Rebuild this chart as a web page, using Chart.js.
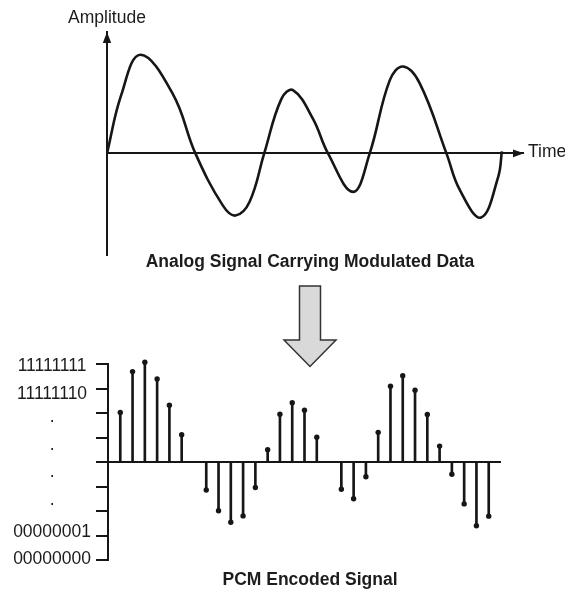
<!DOCTYPE html>
<html lang="en">
<head>
<meta charset="utf-8">
<title>Analog signal and PCM encoded signal</title>
<script src="https://cdn.jsdelivr.net/npm/chart.js@4.4.1/dist/chart.umd.min.js"></script>
<style>
    html, body { margin: 0; padding: 0; background: #fff; }
    body {
        position: relative;
        width: 565px;
        height: 592px;
        overflow: hidden;
        font-family: 'Liberation Sans', Arial, Helvetica, sans-serif;
        color: #1c1c1c;
    }
    .chart-box { position: absolute; left: 0; width: 565px; }
    #analog-box { top: 0; height: 262px; }
    #pcm-box { top: 340px; height: 236px; }
    .txt { position: absolute; font-size: 17.5px; line-height: 20px; white-space: nowrap; }
    .centered { transform: translateX(-50%); }
    .title { font-weight: bold; }
    #down-arrow { position: absolute; left: 280px; top: 282px; }
</style>
</head>
<body>
<div id="analog-box" class="chart-box"><canvas id="analogChart"></canvas></div>
<div id="pcm-box" class="chart-box"><canvas id="pcmChart"></canvas></div>

<div class="txt centered" style="left:107px; top:7px;">Amplitude</div>
<div class="txt" style="left:528px; top:141px;">Time</div>
<div class="txt title centered" style="left:310px; top:251px;">Analog Signal Carrying Modulated Data</div>
<svg id="down-arrow" width="60" height="90" viewBox="0 0 60 90">
    <polygon points="19.5,4 40.5,4 40.5,58 56,58 30,84.5 4,58 19.5,58"
             fill="#d9d9d9" stroke="#333" stroke-width="1.5" stroke-linejoin="miter"/>
</svg>
<div class="txt title centered" style="left:310px; top:569px;">PCM Encoded Signal</div>

<script>
// analog waveform (time 0..100 along the axis, amplitude in first-peak units)
const analogTime = [0, 3.4, 8.0, 15.8, 21.2, 27.8, 30.8, 34.2, 37.7,
    41.8, 44.6, 49.4, 53.0, 59.0, 63.0, 67.8, 71.0, 75.0, 81.4,
    84.6, 89.7, 93.8, 94.7];
const analogAmplitude = [0, 0.59, 1.00, 0.60, 0, -0.53, -0.63, -0.49, 0,
    0.55, 0.64, 0.35, 0, -0.39, 0, 0.74, 0.88, 0.71, 0,
    -0.37, -0.65, -0.24, 0.02];
const timeRange = [0, 100];
const amplitudeRange = [-1.03, 1.23];

// PCM samples: one per slot, null where the sample sits on the zero line
const pcmLevels = [2.02, 3.69, 4.07, 3.39, 2.32, 1.11, null, -1.14, -1.99, -2.46, -2.20, -1.04,
    0.50, 1.95, 2.42, 2.11, 1.01, null, -1.11, -1.50, -0.60, 1.21, 3.09, 3.52, 2.93, 1.94,
    0.65, -0.50, -1.71, -2.60, -2.21];
const sampleRange = [-1, 31];
const levelTicks = [-4, -3, -2, -1, 0, 1, 2, 3, 4];
// code words listed bottom to top
const codeLabels = ['00000000', '00000001', '·', '·', '·', '·', '11111110', '11111111'];
const codeRange = [-0.02, 7.08];

const INK = '#161616';

Chart.defaults.font.family = "'Liberation Sans', Arial, Helvetica, sans-serif";
Chart.defaults.font.size = 17.5;
Chart.defaults.color = '#1c1c1c';
Chart.defaults.animation = false;
Chart.defaults.responsive = true;
Chart.defaults.maintainAspectRatio = false;
Chart.defaults.plugins.legend.display = false;
Chart.defaults.plugins.tooltip.enabled = false;

const axisArrows = {
    id: 'axisArrows',
    afterDraw(chart) {
        const { ctx, chartArea } = chart;
        const x0 = Math.round(chartArea.left);
        const y0 = chart.scales.y.getPixelForValue(0);

        ctx.save();
        ctx.fillStyle = INK;

        ctx.beginPath();
        ctx.moveTo(x0, chartArea.top);
        ctx.lineTo(x0 - 4.2, chartArea.top + 11);
        ctx.lineTo(x0 + 4.2, chartArea.top + 11);
        ctx.closePath();
        ctx.fill();

        ctx.beginPath();
        ctx.moveTo(chartArea.right, y0);
        ctx.lineTo(chartArea.right - 11, y0 - 3.8);
        ctx.lineTo(chartArea.right - 11, y0 + 3.8);
        ctx.closePath();
        ctx.fill();

        ctx.restore();
    },
};

new Chart(document.getElementById('analogChart'), {
    type: 'line',
    data: {
        datasets: [{
            data: analogTime.map((t, i) => ({ x: t, y: analogAmplitude[i] })),
            borderColor: INK,
            borderWidth: 2.6,
            pointRadius: 0,
            tension: 0.4,
            fill: false,
        }],
    },
    options: {
        layout: {
            padding: { left: 107, right: 41, top: 32, bottom: 7 },
        },
        scales: {
            x: {
                type: 'linear',
                display: false,
                min: timeRange[0],
                max: timeRange[1],
            },
            y: {
                type: 'linear',
                min: amplitudeRange[0],
                max: amplitudeRange[1],
                afterBuildTicks: (scale) => {
                    scale.ticks = [{ value: 0 }];
                },
                ticks: { display: false },
                grid: {
                    color: INK,
                    lineWidth: 2,
                    drawTicks: false,
                },
                border: {
                    display: true,
                    color: INK,
                    width: 2,
                },
            },
        },
    },
    plugins: [axisArrows],
});

const pcmPoints = pcmLevels
    .map((v, i) => ({ x: i, y: v }))
    .filter((p) => p.y !== null);

new Chart(document.getElementById('pcmChart'), {
    type: 'bar',
    data: {
        datasets: [
            {
                type: 'scatter',
                data: pcmPoints,
                pointRadius: 2.7,
                pointBackgroundColor: INK,
                pointBorderWidth: 0,
                clip: false,
            },
            {
                type: 'bar',
                data: pcmPoints,
                backgroundColor: INK,
                barThickness: 2,
                clip: false,
            },
        ],
    },
    options: {
        layout: {
            padding: { left: 14, right: 64, top: 24, bottom: 16 },
        },
        scales: {
            x: {
                type: 'linear',
                display: false,
                offset: false,
                min: sampleRange[0],
                max: sampleRange[1],
            },
            y: {
                type: 'linear',
                position: 'left',
                weight: 0,
                min: levelTicks[0],
                max: levelTicks[levelTicks.length - 1],
                afterBuildTicks: (scale) => {
                    scale.ticks = levelTicks.map((v) => ({ value: v }));
                },
                ticks: { display: false },
                grid: {
                    color: (ctx) => (ctx.tick && ctx.tick.value === 0 ? INK : 'transparent'),
                    tickColor: INK,
                    lineWidth: 2,
                    drawTicks: true,
                    tickLength: 12,
                },
                border: {
                    display: true,
                    color: INK,
                    width: 2,
                },
            },
            yl: {
                type: 'linear',
                position: 'left',
                weight: 1,
                min: codeRange[0],
                max: codeRange[1],
                afterBuildTicks: (scale) => {
                    scale.ticks = codeLabels.map((_, i) => ({ value: i }));
                },
                afterFit: (scale) => {
                    scale.width = 82;
                },
                ticks: {
                    autoSkip: false,
                    crossAlign: 'center',
                    padding: 5,
                    color: '#1c1c1c',
                    callback: (value) => codeLabels[value] ?? '',
                },
                grid: { display: false, drawTicks: false },
                border: { display: false },
            },
        },
    },
});
</script>
</body>
</html>
